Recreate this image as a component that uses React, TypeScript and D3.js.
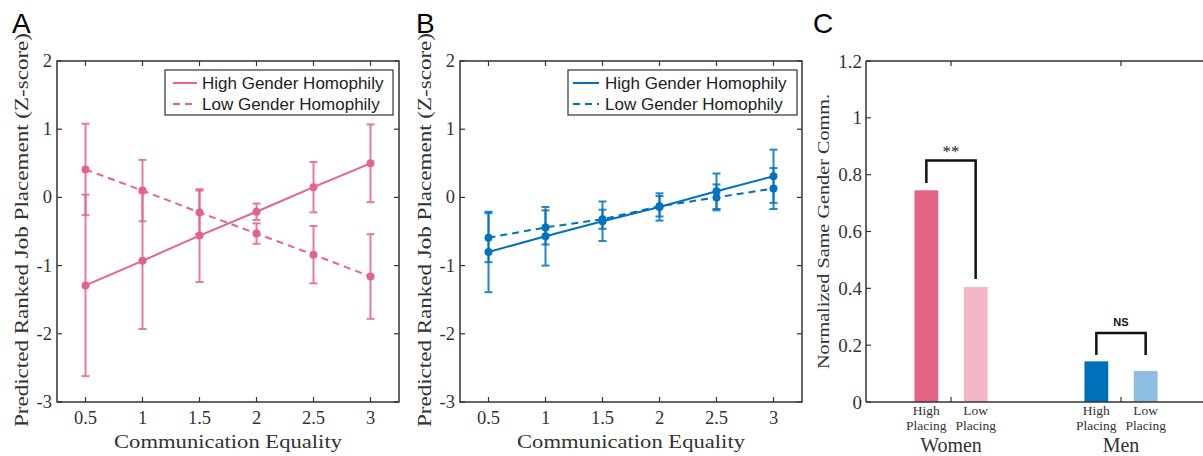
import React from "react";
import * as d3 from "d3";

const xValues = [0.5, 1, 1.5, 2, 2.5, 3];
const xTicks = [0.5, 1, 1.5, 2, 2.5, 3];
const yTicksLine = [-3, -2, -1, 0, 1, 2];

const aHigh = [-1.29, -0.93, -0.56, -0.21, 0.15, 0.5];
const aHighErr = [1.33, 1.0, 0.68, 0.12, 0.37, 0.57];
const aLow = [0.41, 0.1, -0.22, -0.53, -0.84, -1.16];
const aLowErr = [0.67, 0.45, 0.32, 0.15, 0.42, 0.62];

const bHigh = [-0.8, -0.57, -0.35, -0.14, 0.09, 0.31];
const bHighErr = [0.59, 0.43, 0.29, 0.2, 0.26, 0.39];
const bLow = [-0.59, -0.44, -0.32, -0.13, 0.0, 0.13];
const bLowErr = [0.36, 0.25, 0.14, 0.15, 0.19, 0.3];

const legendLabels = ["High Gender Homophily", "Low Gender Homophily"];

const cGroups = ["Women", "Men"];
const cSubLabels = [["High", "Placing"], ["Low", "Placing"]];
const cHigh = [0.745, 0.143];
const cLow = [0.405, 0.109];
const cYTicks = [0, 0.2, 0.4, 0.6, 0.8, 1, 1.2];
const cSigLabels = ["**", "NS"];
const cBracketTop = [0.85, 0.243];
const cBracketLeftEnd = [0.771, 0.165];
const cBracketRightEnd = [0.433, 0.165];

const PINK = "#E46486";
const BLUE = "#0072BD";
const AXIS = "#333333";
const SERIF = "'Liberation Serif', 'DejaVu Serif', serif";
const SANS = "'Liberation Sans', Arial, sans-serif";

const TOP = 61;
const BOTTOM = 402;

type PanelProps = {
  x0: number;
  x1: number;
  color: string;
  high: number[];
  highErr: number[];
  low: number[];
  lowErr: number[];
  legend: { x0: number; x1: number; lineX0: number; lineX1: number; textX: number };
  letter: string;
  letterX: number;
};

function LinePanel(p: PanelProps) {
  const x = d3.scaleLinear().domain([0.25, 3.25]).range([p.x0, p.x1]);
  const y = d3.scaleLinear().domain([-3, 2]).range([BOTTOM, TOP]);
  const line = d3
    .line<number>()
    .x((_, i) => x(xValues[i]))
    .y((d) => y(d));
  const series = [
    { v: p.high, e: p.highErr, dash: undefined as string | undefined },
    { v: p.low, e: p.lowErr, dash: "7,5" },
  ];
  const cap = 4;
  const tl = 5;
  return (
    <g>
      <text x={p.letterX} y={33} fontFamily={SANS} fontSize={28} fill="#000">
        {p.letter}
      </text>
      <rect x={p.x0} y={TOP} width={p.x1 - p.x0} height={BOTTOM - TOP} fill="none" stroke={AXIS} strokeWidth={1.5} />
      {xTicks.map((t) => (
        <g key={"xt" + t}>
          <line x1={x(t)} x2={x(t)} y1={BOTTOM} y2={BOTTOM - tl} stroke={AXIS} strokeWidth={1.2} />
          <line x1={x(t)} x2={x(t)} y1={TOP} y2={TOP + tl} stroke={AXIS} strokeWidth={1.2} />
          <text x={x(t)} y={424} textAnchor="middle" fontFamily={SERIF} fontSize={18.5} fill="#333">
            {t}
          </text>
        </g>
      ))}
      {yTicksLine.map((t) => (
        <g key={"yt" + t}>
          <line x1={p.x0} x2={p.x0 + tl} y1={y(t)} y2={y(t)} stroke={AXIS} strokeWidth={1.2} />
          <line x1={p.x1} x2={p.x1 - tl} y1={y(t)} y2={y(t)} stroke={AXIS} strokeWidth={1.2} />
          <text x={p.x0 - 5} y={y(t) + 6} textAnchor="end" fontFamily={SERIF} fontSize={18.5} fill="#333">
            {t}
          </text>
        </g>
      ))}
      <text
        x={(p.x0 + p.x1) / 2}
        y={448}
        textAnchor="middle"
        fontFamily={SERIF}
        fontSize={19.5}
        fill="#333"
        textLength={228}
        lengthAdjust="spacingAndGlyphs"
      >
        Communication Equality
      </text>
      <text
        transform={`translate(${p.x0 - 29},${230}) rotate(-90)`}
        textAnchor="middle"
        fontFamily={SERIF}
        fontSize={19}
        fill="#333"
        textLength={394}
        lengthAdjust="spacingAndGlyphs"
      >
        Predicted Ranked Job Placement (Z-score)
      </text>
      {series.map((s, si) => (
        <g key={"s" + si}>
          {s.v.map((v, i) => (
            <g key={i} stroke={p.color} strokeWidth={2} opacity={0.85}>
              <line x1={x(xValues[i])} x2={x(xValues[i])} y1={y(v - s.e[i])} y2={y(v + s.e[i])} />
              <line x1={x(xValues[i]) - cap} x2={x(xValues[i]) + cap} y1={y(v - s.e[i])} y2={y(v - s.e[i])} />
              <line x1={x(xValues[i]) - cap} x2={x(xValues[i]) + cap} y1={y(v + s.e[i])} y2={y(v + s.e[i])} />
            </g>
          ))}
          <path d={line(s.v) || ""} fill="none" stroke={p.color} strokeWidth={2} strokeDasharray={s.dash} />
          {s.v.map((v, i) => (
            <circle key={"c" + i} cx={x(xValues[i])} cy={y(v)} r={4} fill={p.color} />
          ))}
        </g>
      ))}
      <rect x={p.legend.x0} y={70} width={p.legend.x1 - p.legend.x0} height={45} fill="#fff" stroke={AXIS} strokeWidth={1.2} />
      {legendLabels.map((l, i) => (
        <g key={l}>
          <line
            x1={p.legend.lineX0}
            x2={p.legend.lineX1}
            y1={83 + i * 21}
            y2={83 + i * 21}
            stroke={p.color}
            strokeWidth={2}
            strokeDasharray={i === 1 ? "7,5" : undefined}
          />
          <text x={p.legend.textX} y={89 + i * 21} fontFamily={SANS} fontSize={17} fill="#222">
            {l}
          </text>
        </g>
      ))}
    </g>
  );
}

function BarPanel() {
  const x0 = 866;
  const x1 = 1206;
  const x = d3.scaleLinear().domain([0.5, 2.5]).range([x0, x1]);
  const y = d3.scaleLinear().domain([0, 1.2]).range([BOTTOM, TOP]);
  const off = 0.145;
  const bw = 0.14;
  const wpx = x(bw) - x(0);
  const colors = [
    ["#E46486", "#F2B6C6"],
    ["#0070BA", "#8DBFE5"],
  ];
  const tl = 5;
  return (
    <g>
      <text x={813} y={33} fontFamily={SANS} fontSize={28} fill="#000">
        C
      </text>
      <line x1={x0} x2={x0} y1={TOP} y2={BOTTOM} stroke={AXIS} strokeWidth={1.5} />
      <line x1={x0} x2={x1} y1={TOP} y2={TOP} stroke={AXIS} strokeWidth={1.5} />
      <line x1={x1} x2={x1} y1={TOP} y2={BOTTOM} stroke={AXIS} strokeWidth={1.5} />
      {cYTicks.map((t) => (
        <g key={"cy" + t}>
          <line x1={x0} x2={x0 + tl} y1={y(t)} y2={y(t)} stroke={AXIS} strokeWidth={1.2} />
          <text x={x0 - 4} y={y(t) + 6.5} textAnchor="end" fontFamily={SERIF} fontSize={19} fill="#333">
            {t}
          </text>
        </g>
      ))}
      <text
        transform={`translate(${829},${(TOP + BOTTOM) / 2}) rotate(-90)`}
        textAnchor="middle"
        fontFamily={SERIF}
        fontSize={17}
        fill="#333"
        textLength={275}
        lengthAdjust="spacingAndGlyphs"
      >
        Normalized Same Gender Comm.
      </text>
      {cGroups.map((g, gi) => {
        const c = gi + 1;
        const vals = [cHigh[gi], cLow[gi]];
        const cx = [x(c - off), x(c + off)];
        return (
          <g key={g}>
            {vals.map((v, k) => (
              <rect key={k} x={cx[k] - wpx / 2} y={y(v)} width={wpx} height={y(0) - y(v)} fill={colors[gi][k]} />
            ))}
            <line x1={x(c)} x2={x(c)} y1={TOP} y2={TOP + tl} stroke={AXIS} strokeWidth={1.2} />
            {cSubLabels.map((ls, k) =>
              ls.map((l, li) => (
                <text
                  key={k + "-" + li}
                  x={cx[k]}
                  y={415 + li * 15}
                  textAnchor="middle"
                  fontFamily={SERIF}
                  fontSize={13.5}
                  fill="#333"
                >
                  {l}
                </text>
              ))
            )}
            <text x={x(c)} y={452} textAnchor="middle" fontFamily={SERIF} fontSize={20} fill="#333">
              {g}
            </text>
            <path
              d={`M${cx[0]},${y(cBracketLeftEnd[gi])}V${y(cBracketTop[gi])}H${cx[1]}V${y(cBracketRightEnd[gi])}`}
              fill="none"
              stroke="#111"
              strokeWidth={2.5}
            />
            {gi === 0 ? (
              <text x={x(c)} y={y(cBracketTop[gi]) - 3} textAnchor="middle" fontFamily={SERIF} fontSize={17} fill="#222">
                {cSigLabels[gi]}
              </text>
            ) : (
              <text
                x={x(c)}
                y={y(cBracketTop[gi]) - 7}
                textAnchor="middle"
                fontFamily={SANS}
                fontWeight="bold"
                fontSize={11}
                fill="#111"
              >
                {cSigLabels[gi]}
              </text>
            )}
          </g>
        );
      })}
      <line x1={x0} x2={x1} y1={BOTTOM} y2={BOTTOM} stroke={AXIS} strokeWidth={1.5} />
      {cGroups.map((g, gi) => (
        <line key={"bt" + g} x1={x(gi + 1)} x2={x(gi + 1)} y1={BOTTOM} y2={BOTTOM - tl} stroke={AXIS} strokeWidth={1.2} />
      ))}
    </g>
  );
}

export default function App() {
  return (
    <svg
      width={1203}
      height={456}
      style={{ position: "absolute", left: 0, top: 0, background: "#fff" }}
    >
      <rect x={0} y={0} width={1203} height={456} fill="#fff" />
      <LinePanel
        x0={57}
        x1={399}
        color={PINK}
        high={aHigh}
        highErr={aHighErr}
        low={aLow}
        lowErr={aLowErr}
        legend={{ x0: 165, x1: 393, lineX0: 173, lineX1: 197, textX: 202 }}
        letter="A"
        letterX={12}
      />
      <LinePanel
        x0={460}
        x1={802}
        color={BLUE}
        high={bHigh}
        highErr={bHighErr}
        low={bLow}
        lowErr={bLowErr}
        legend={{ x0: 568, x1: 797, lineX0: 573, lineX1: 599, textX: 605 }}
        letter="B"
        letterX={416}
      />
      <BarPanel />
    </svg>
  );
}
